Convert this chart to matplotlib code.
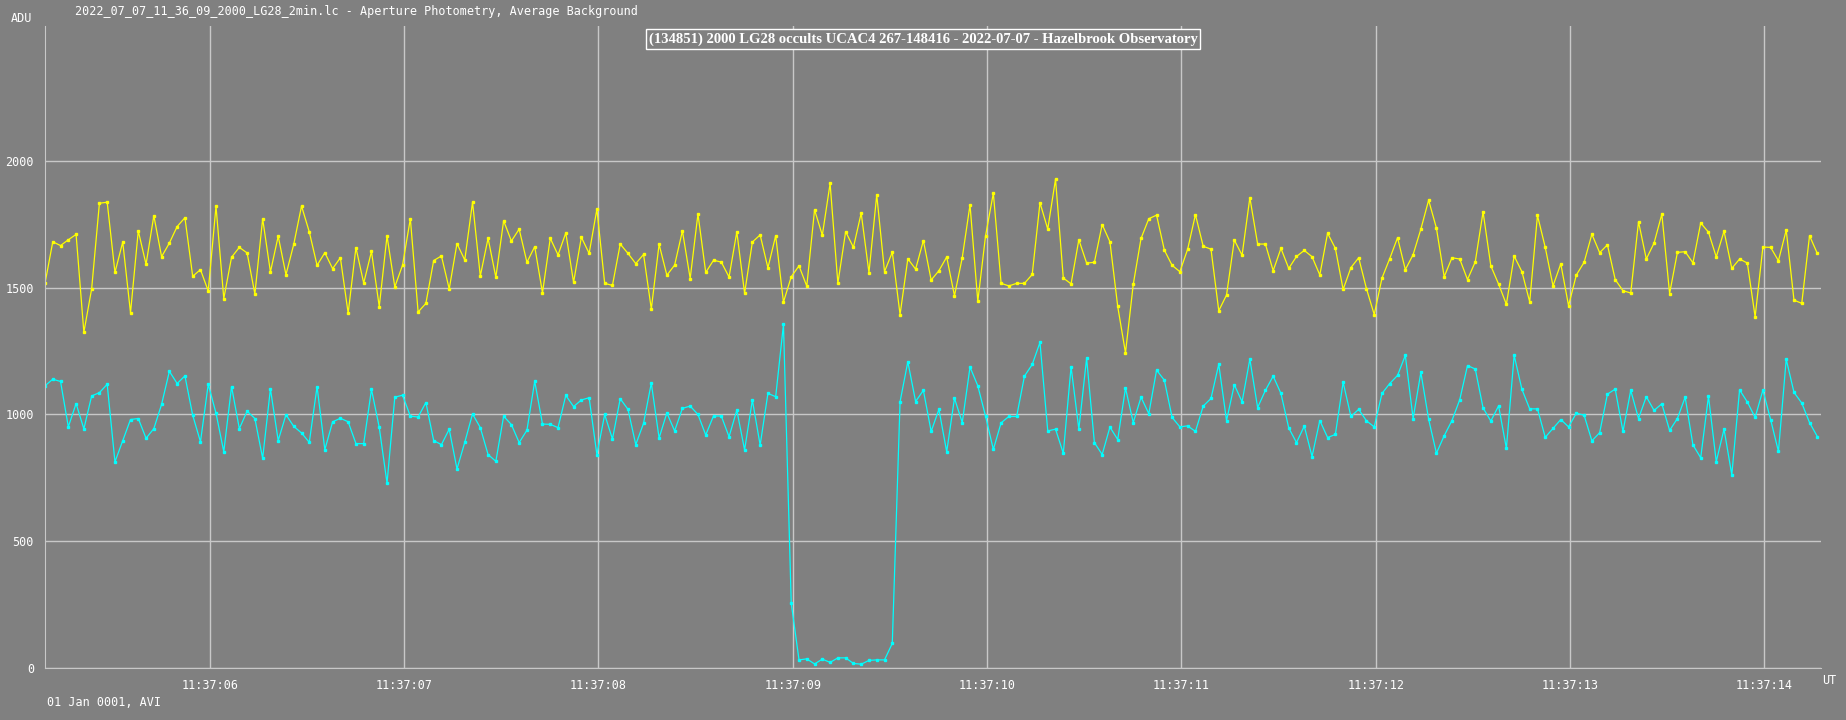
import matplotlib
matplotlib.use("Agg")
import matplotlib.pyplot as plt
import numpy as np

yellow = [1517,1681,1666,1689,1710,1324,1495,1833,1837,1560,1680,1401,1724,1592,1784,1622,1676,1741,1776,1545,1571,1487,1821,1457,1620,1659,1637,1475,1772,1562,1703,1551,
          1671,1822,1720,1588,1638,1575,1618,1399,1658,1518,1643,1425,1704,1503,1589,1772,1404,1438,1607,1625,1495,1674,1609,1837,1546,1695,1541,1764,1684,1731,1600,1662,
          1480,1695,1629,1716,1521,1699,1635,1810,1517,1509,1672,1635,1595,1631,1416,1671,1549,1589,1724,1536,1791,1560,1608,1601,1542,1720,1478,1680,1708,1578,1705,1443,
          1543,1586,1506,1807,1707,1911,1517,1721,1659,1794,1559,1866,1563,1640,1394,1614,1573,1686,1530,1567,1621,1468,1618,1827,1446,1705,1873,1517,1507,1517,1517,1552,
          1835,1731,1928,1538,1515,1689,1597,1600,1749,1681,1426,1243,1513,1694,1772,1786,1648,1588,1563,1652,1788,1663,1652,1409,1471,1688,1628,1855,1672,1672,1567,1655,
          1576,1623,1647,1622,1550,1715,1655,1493,1579,1618,1496,1394,1538,1615,1697,1571,1630,1731,1845,1735,1543,1618,1613,1532,1602,1799,1586,1514,1434,1625,1563,1444,
          1785,1659,1507,1594,1429,1550,1600,1711,1638,1669,1532,1488,1479,1760,1613,1676,1790,1477,1639,1642,1598,1755,1719,1621,1723,1576,1613,1597,1385,1660,1659,1606,1727,1451,1438,1705,1635]
cyan = [1113,1139,1130,951,1043,943,1073,1086,1119,813,897,980,984,906,944,1040,1170,1122,1152,997,892,1119,1005,853,1110,944,1013,984,827,1101,897,999,
        953,927,890,1110,861,971,985,971,885,885,1099,949,729,1068,1076,993,990,1047,897,881,942,785,890,1002,948,842,815,993,960,889,938,1131,
        962,961,948,1075,1031,1057,1066,841,1000,903,1062,1020,881,965,1124,907,1006,935,1024,1033,1000,919,994,994,912,1017,860,1057,879,1083,1070,1355,
        256,32,36,16,35,22,40,40,18,15,30,32,32,97,1050,1208,1051,1095,933,1020,853,1064,968,1187,1113,993,862,967,992,992,1151,1197,
        1284,935,942,847,1188,942,1222,889,842,950,901,1104,968,1068,1003,1175,1135,988,951,955,933,1033,1063,1198,976,1117,1050,1218,1027,1095,1151,1083,
        947,889,954,834,976,909,921,1127,992,1020,975,951,1083,1122,1154,1233,984,1166,981,847,916,976,1058,1193,1179,1026,974,1034,866,1233,1099,1022,
        1022,910,945,980,951,1005,997,896,928,1080,1100,933,1095,984,1070,1016,1042,937,984,1068,880,829,1072,814,942,762,1097,1049,988,1096,979,854,1218,1087,1045,968,913]
t0 = 5.152
dt = 0.04
xticks = [6, 7, 8, 9, 10, 11, 12, 13, 14]
xticklabels = ["11:37:0%d" % s if s < 10 else "11:37:%d" % s for s in xticks]
yticks = [0, 500, 1000, 1500, 2000]

t = t0 + dt * np.arange(len(yellow))
W, H = 1846, 720
fig = plt.figure(figsize=(W/100, H/100), dpi=100, facecolor="#808080")
ax = fig.add_axes([45/W, 1-668/H, (1821-45)/W, (668-26)/H], facecolor="#808080")
ax.set_xlim(t0, 14.291)
ax.set_ylim(0, 2532)
ax.plot(t, yellow, color="#ffff00", lw=0.9, marker="s", ms=2.0, mec="#ffff00")
ax.plot(t, cyan, color="#00ffff", lw=0.9, marker="s", ms=2.0, mec="#00ffff")
ax.set_xticks(xticks)
ax.set_xticklabels(xticklabels)
ax.set_yticks(yticks)
ax.grid(True, color="#c8c8c8", lw=1)
ax.set_axisbelow(True)
for s in ["top", "right"]:
    ax.spines[s].set_visible(False)
for s in ["left", "bottom"]:
    ax.spines[s].set_color("#c8c8c8")
ax.tick_params(length=0, colors="white", labelsize=8.5, pad=8)
for lab in ax.get_xticklabels() + ax.get_yticklabels():
    lab.set_family("DejaVu Sans Mono")
fig.text(21/W, 1-18/H, "ADU", color="white", fontsize=8.5, family="DejaVu Sans Mono", ha="center", va="center")
fig.text(1829/W, 1-680/H, "UT", color="white", fontsize=8.5, family="DejaVu Sans Mono", ha="center", va="center")
fig.text(47/W, 1-702/H, "01 Jan 0001, AVI", color="white", fontsize=8.5, family="DejaVu Sans Mono", ha="left", va="center")
fig.text(75/W, 1-12/H, "2022_07_07_11_36_09_2000_LG28_2min.lc - Aperture Photometry, Average Background",
         color="white", fontsize=8.5, family="DejaVu Sans Mono", ha="left", va="center")
fig.text(923/W, 1-39/H, "(134851) 2000 LG28 occults UCAC4 267-148416 - 2022-07-07 - Hazelbrook Observatory",
         color="white", fontsize=10.5, family="Liberation Serif", weight="bold", ha="center", va="center",
         bbox=dict(boxstyle="square,pad=0.2", fc="#808080", ec="white", lw=1))
fig.savefig("out.png", dpi=100, facecolor=fig.get_facecolor())
